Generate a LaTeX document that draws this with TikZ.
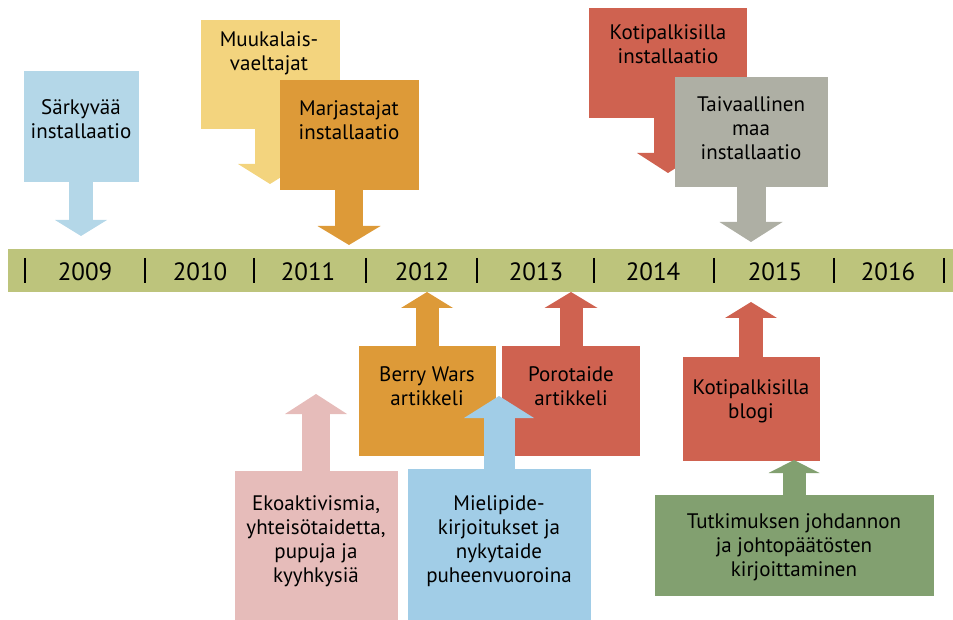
\documentclass[tikz,border=0pt]{standalone}
\usepackage{fontspec}
\setmainfont{PT Sans}
\usetikzlibrary{arrows.meta}

\definecolor{barcol}{HTML}{BDC47C}
\definecolor{sky}{HTML}{B4D7E8}
\definecolor{skydark}{HTML}{A1CDE7}
\definecolor{sun}{HTML}{F3D47E}
\definecolor{amber}{HTML}{DD9A38}
\definecolor{brick}{HTML}{CF6250}
\definecolor{stone}{HTML}{AEAFA4}
\definecolor{rose}{HTML}{E6BCBA}
\definecolor{moss}{HTML}{82A070}

\begin{document}
\begin{tikzpicture}[
    x=1pt, y=-1pt,
    box/.style={rectangle, inner sep=0pt, anchor=north},
    txt/.style={align=center, inner sep=0pt, font=\fontsize{21}{24}\selectfont},
    year/.style={inner sep=0pt, font=\fontsize{25}{28}\selectfont},
    tick/.style={line width=2.6pt},
    fat/.style n args={3}{line width=#1pt, -{Triangle[width=#2pt, length=#3pt, line width=0pt]}}
]
\useasboundingbox (0,0) rectangle (953,620);

% Aikajana
\fill[barcol] (8,249) rectangle (953,292);
\draw[tick] (25,258) -- (25,283) (145,258) -- (145,283) (254,258) -- (254,283)
    (366,258) -- (366,283) (477,258) -- (477,283) (594,258) -- (594,283)
    (714,258) -- (714,283) (834,258) -- (834,283) (944,258) -- (944,283);
\node[year] (y2009) at (85,272) {2009};
\node[year] (y2010) at (200,272) {2010};
\node[year] (y2011) at (308,272) {2011};
\node[year] (y2012) at (422,272) {2012};
\node[year] (y2013) at (536,272) {2013};
\node[year] (y2014) at (653,272) {2014};
\node[year] (y2015) at (775,272) {2015};
\node[year] (y2016) at (888,272) {2016};

% Kärjet
\coordinate (t1) at (81,236);
\coordinate (t2) at (270,184);
\coordinate (t3) at (349,245);
\coordinate (t4) at (668,173);
\coordinate (t5) at (751,242);
\coordinate (b1) at (427,292);
\coordinate (b2) at (571,292);
\coordinate (b3) at (751,302);
\coordinate (b4) at (316,394);
\coordinate (b5) at (499,396);
\coordinate (b6) at (794,460);

% Yläpuoli
\node[box, fill=sky, minimum width=115, minimum height=111] (sark) at (81,71) {};
\draw[sky, fat={24}{52}{16}] (sark.south) -- (t1);
\node[txt] (sarkt) at (81,119) {Särkyvää\\installaatio};

\node[box, fill=sun, minimum width=139, minimum height=109] (muuk) at (270,20) {};
\draw[sun, fat={30}{64}{20}] (muuk.south) -- (t2);
\node[txt] (muukt) at (269,53) {Muukalais-\\vaeltajat};

\node[box, fill=amber, minimum width=139, minimum height=110] (marj) at (349,80) {};
\draw[amber, fat={28}{63}{19}] (marj.south) -- (t3);
\node[txt] (marjt) at (349,120) {Marjastajat\\installaatio};

\node[box, fill=brick, minimum width=158, minimum height=110] (koti) at (668,8) {};
\draw[brick, fat={28}{62}{20}] (koti.south) -- (t4);
\node[txt] (kotit) at (668,44) {Kotipalkisilla\\installaatio};

\node[box, fill=stone, minimum width=153, minimum height=110] (taiv) at (751,77) {};
\draw[stone, fat={29}{63}{20}] (taiv.south) -- (t5);
\node[txt] (taivt) at (751,128) {Taivaallinen\\maa\\installaatio};

% Alapuoli
\node[box, fill=amber, minimum width=137, minimum height=110] (berry) at (427,346) {};
\draw[amber, fat={23}{52}{16}] (berry.north) -- (b1);
\node[txt] (berryt) at (427,386) {Berry Wars\\artikkeli};

\node[box, fill=brick, minimum width=138, minimum height=110] (poro) at (571,346) {};
\draw[brick, fat={23}{53}{16}] (poro.north) -- (b2);
\node[txt] (porot) at (571,386) {Porotaide\\artikkeli};

\node[box, fill=brick, minimum width=137, minimum height=104] (blogi) at (751,357) {};
\draw[brick, fat={24}{52}{16}] (blogi.north) -- (b3);
\node[txt] (blogit) at (751,401) {Kotipalkisilla\\blogi};

\node[box, fill=rose, minimum width=163, minimum height=149] (eko) at (316,471) {};
\draw[rose, fat={28}{62}{20}] (eko.north) -- (b4);
\node[txt] (ekot) at (316,541) {Ekoaktivismia,\\yhteisötaidetta,\\pupuja ja\\kyyhkysiä};

\node[box, fill=skydark, minimum width=183, minimum height=151] (miel) at (499,469) {};
\draw[skydark, fat={31}{70}{22}] (miel.north) -- (b5);
\node[txt] (mielt) at (499,541) {Mielipide-\\kirjoitukset ja\\nykytaide\\puheenvuoroina};

\node[box, fill=moss, minimum width=279, minimum height=101] (tutk) at (794,495) {};
\draw[moss, fat={23}{51}{13}] (tutk.north) -- (b6);
\node[txt] (tutkt) at (794,547) {Tutkimuksen johdannon\\ja johtopäätösten\\kirjoittaminen};
\end{tikzpicture}
\end{document}
